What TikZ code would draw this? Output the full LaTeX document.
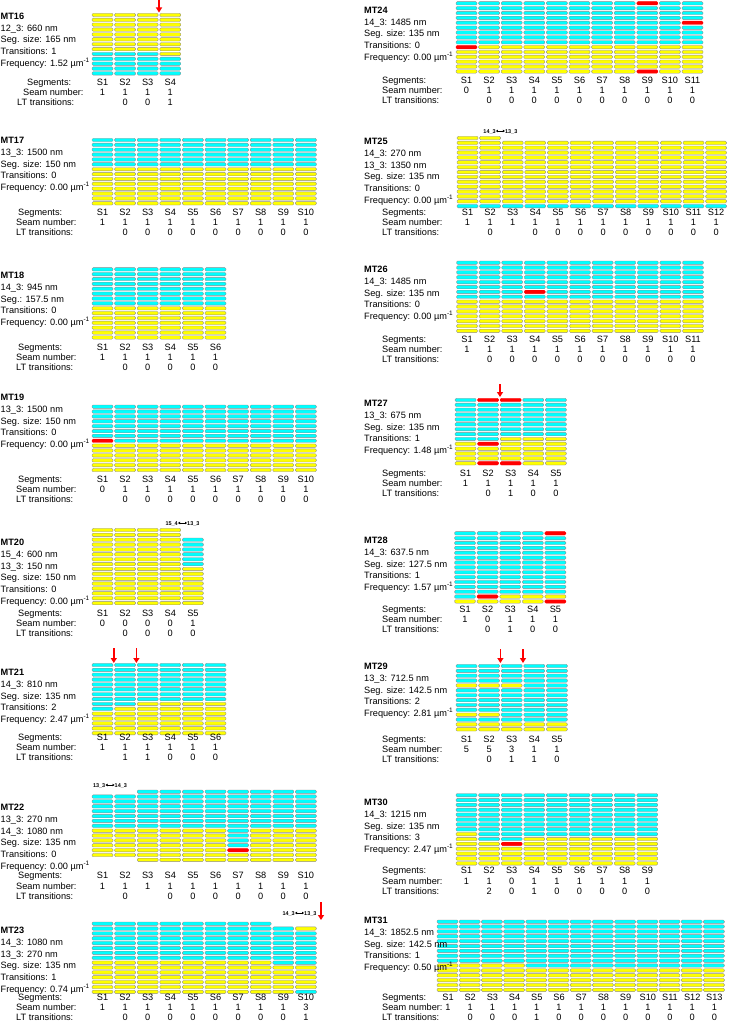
\documentclass[tikz,border=0pt]{standalone}
\usepackage{fontspec}
\setmainfont{Liberation Sans}
\usetikzlibrary{arrows.meta}
\definecolor{pcyan}{RGB}{0,255,255}
\definecolor{pyellow}{RGB}{255,255,0}
\definecolor{pred}{RGB}{255,0,0}
\tikzset{
  pill/.style={draw=black!45, line width=0.35pt, rounded corners=1.2pt},
  pc/.style={pill, fill=pcyan},
  py/.style={pill, fill=pyellow},
  pr/.style={pill, fill=pred, draw=pred},
  px/.style={},
  txt/.style={font=\fontsize{9.2}{11}\selectfont, inner sep=0pt, text height=6.6pt, text depth=0pt},
  ttl/.style={txt, font=\fontsize{9.2}{11}\selectfont\bfseries},
  tiny/.style={font=\fontsize{5.5}{6}\selectfont\bfseries, inner sep=0pt, text height=4pt, text depth=0pt},
  redarrow/.style={color=pred, line width=1.6pt, -{Triangle[length=5pt,width=6pt]}},
}
\newcommand\mtcols[4]{%
  \foreach \L [count=\i from 0] in {#4}{%
    \xdef\pcy{#2}%
    \foreach \n/\s in \L {%
      \foreach \k in {1,...,\n}{%
        \path[\s] ({#1+#3*\i},\pcy) rectangle ++(21,3.4);
        \pgfmathsetmacro\tmp{\pcy+4.87}\xdef\pcy{\tmp}%
      }%
    }%
  }%
}
\newcommand\mtinfo[5]{% id, x, y, title, lines
  \node[ttl, anchor=west] (#1) at (#2,#3) {#4};
  \foreach \t [count=\j] in {#5} \node[txt, anchor=west] (#1-l\j) at (#2,{#3+11.85*\j}) {\t};
}
\def\lxa{18}\def\lxb{16}\def\lxc{16}
\newcommand\mtbottom[7]{% id, x0, pitch, y, n, seam, LT
  \node[txt,anchor=west] (#1-sg) at (\lxa,#4) {Segments:};
  \node[txt,anchor=west] (#1-sn) at (\lxb,{#4+10.2}) {Seam number:};
  \node[txt,anchor=west] (#1-lt) at (\lxc,{#4+20.4}) {LT transitions:};
  \foreach \i in {1,...,#5} \node[txt] (#1-S\i) at ({#2+10.5+#3*(\i-1)},#4) {S\i};
  \foreach \v [count=\i from 0] in {#6} \node[txt] (#1-n\i) at ({#2+10.5+#3*\i},{#4+10.2}) {\v};
  \foreach \v [count=\i from 0] in {#7} \node[txt] (#1-t\i) at ({#2+10.5+#3*\i},{#4+20.4}) {\v};
}
\newcommand\mtx[5]{% id, xc, y, left, right
  \node[tiny, anchor=east] (#1-xl) at ({#2-4.5},#3) {#4};
  \node[tiny, anchor=west] (#1-xr) at ({#2+4.5},#3) {#5};
  \draw[line width=0.6pt, {Triangle[length=2pt,width=2.4pt]}-{Triangle[length=2pt,width=2.4pt]}] (#1-xl.east) -- (#1-xr.west);
}
\newcommand\mtarrow[4]{% id, x, ytop, ybot
  \coordinate (#1-a) at (#2,#3); \coordinate (#1-b) at (#2,#4);
  \draw[redarrow] (#1-a) -- (#1-b);
}
\begin{document}
\begin{tikzpicture}[x=1pt,y=-1pt]
\useasboundingbox (0,0) rectangle (732,1022);
\fill[white] (0,0) rectangle (732,1022);
%% MT16
\mtcols{92}{13.3}{22.6}{{8/py,5/pc},{8/py,5/pc},{8/py,5/pc},{9/py,4/pc}}
\mtarrow{m16}{159}{0.5}{12.5}
\mtinfo{m16}{0.5}{16}{MT16}{12\_3: 660 nm, Seg. size: 165 nm, Transitions: 1, Frequency: 1.52 µm\textsuperscript{-1}}
\def\lxa{27}\def\lxb{23}\def\lxc{17}
\mtbottom{m16}{92}{22.6}{82}{4}{1,1,1,1}{,0,0,1}
\def\lxa{18}\def\lxb{16}\def\lxc{16}
%% MT17
\mtcols{92}{138.3}{22.6}{{6/pc,8/py},{6/pc,8/py},{6/pc,8/py},{6/pc,8/py},{6/pc,8/py},{6/pc,8/py},{6/pc,8/py},{6/pc,8/py},{6/pc,8/py},{6/pc,8/py}}
\mtinfo{m17}{0.5}{140}{MT17}{13\_3: 1500 nm, Seg. size: 150 nm, Transitions: 0, Frequency: 0.00 µm\textsuperscript{-1}}
\mtbottom{m17}{92}{22.6}{212}{10}{1,1,1,1,1,1,1,1,1,1}{,0,0,0,0,0,0,0,0,0}
%% MT18
\mtcols{92}{267.6}{22.6}{{8/pc,7/py},{8/pc,7/py},{8/pc,7/py},{8/pc,7/py},{8/pc,7/py},{8/pc,7/py}}
\mtinfo{m18}{0.5}{275}{MT18}{14\_3: 945 nm, Seg.: 157.5 nm, Transitions: 0, Frequency: 0.00 µm\textsuperscript{-1}}
\mtbottom{m18}{92}{22.6}{347}{6}{1,1,1,1,1,1}{,0,0,0,0,0}
%% MT19
\mtcols{92}{405}{22.6}{{7/pc,1/pr,6/py},{8/pc,6/py},{8/pc,6/py},{8/pc,6/py},{8/pc,6/py},{8/pc,6/py},{8/pc,6/py},{8/pc,6/py},{8/pc,6/py},{8/pc,6/py}}
\mtinfo{m19}{0.5}{397}{MT19}{13\_3: 1500 nm, Seg. size: 150 nm, Transitions: 0, Frequency: 0.00 µm\textsuperscript{-1}}
\mtbottom{m19}{92}{22.6}{479}{10}{0,1,1,1,1,1,1,1,1,1}{,0,0,0,0,0,0,0,0,0}
%% MT20
\mtcols{92}{528.3}{22.6}{{16/py},{16/py},{16/py},{16/py},{2/px,6/pc,8/py}}
\mtx{m20}{182.5}{523}{15\_4}{13\_3}
\mtinfo{m20}{0.5}{542}{MT20}{15\_4: 600 nm, 13\_3: 150 nm, Seg. size: 150 nm, Transitions: 0, Frequency: 0.00 µm\textsuperscript{-1}}
\mtbottom{m20}{92}{22.6}{613}{5}{0,0,0,0,1}{,0,0,0,0}
%% MT21
\mtcols{92}{663.3}{22.6}{{10/pc,5/py},{9/pc,6/py},{8/pc,7/py},{8/pc,7/py},{8/pc,7/py},{8/pc,7/py}}
\mtarrow{m21a}{113.8}{648}{663}
\mtarrow{m21b}{136.4}{648}{663}
\mtinfo{m21}{0.5}{672}{MT21}{14\_3: 810 nm, Seg. size: 135 nm, Transitions: 2, Frequency: 2.47 µm\textsuperscript{-1}}
\mtbottom{m21}{92}{22.6}{737}{6}{1,1,1,1,1,1}{,1,1,0,0,0}
%% MT22
\mtcols{92}{790}{22.6}{{1/px,7/pc,6/py},{1/px,7/pc,6/py},{8/pc,7/py},{8/pc,7/py},{8/pc,7/py},{8/pc,7/py},{12/pc,1/pr,2/py},{8/pc,7/py},{8/pc,7/py},{8/pc,7/py}}
\mtx{m22}{110}{785}{13\_3}{14\_3}
\mtinfo{m22}{0.5}{807}{MT22}{13\_3: 270 nm, 14\_3: 1080 nm, Seg. size: 135 nm, Transitions: 0, Frequency: 0.00 µm\textsuperscript{-1}}
\mtbottom{m22}{92}{22.6}{875.5}{10}{1,1,1,1,1,1,1,1,1,1}{,0,,0,0,0,0,0,0,0}
%% MT23
\mtcols{92}{922}{22.6}{{8/pc,7/py},{8/pc,7/py},{8/pc,7/py},{8/pc,7/py},{8/pc,7/py},{8/pc,7/py},{8/pc,7/py},{8/pc,7/py},{1/px,8/pc,6/py},{1/px,1/py,7/pc,5/py,1/pc}}
\mtx{m23}{299.5}{913}{14\_3}{13\_3}
\mtarrow{m23}{321}{902}{920}
\mtinfo{m23}{0.5}{930}{MT23}{14\_3: 1080 nm, 13\_3: 270 nm, Seg. size: 135 nm, Transitions: 1, Frequency: 0.74 µm\textsuperscript{-1}}
\mtbottom{m23}{92}{22.6}{997}{10}{1,1,1,1,1,1,1,1,1,3}{,0,0,0,0,0,0,0,0,1}
%% right column
\def\lxa{382}\def\lxb{382}\def\lxc{382}
%% MT24
\mtcols{456}{1.6}{22.6}{{9/pc,1/pr,5/py},{9/pc,6/py},{9/pc,6/py},{9/pc,6/py},{9/pc,6/py},{9/pc,6/py},{9/pc,6/py},{9/pc,6/py},{1/pr,8/pc,5/py,1/pr},{9/pc,6/py},{4/pc,1/pr,4/pc,6/py}}
\mtinfo{m24}{364}{10}{MT24}{14\_3: 1485 nm, Seg. size: 135 nm, Transitions: 0, Frequency: 0.00 µm\textsuperscript{-1}}
\mtbottom{m24}{456}{22.6}{80}{11}{0,1,1,1,1,1,1,1,1,1,1}{,0,0,0,0,0,0,0,0,0,0}
%% MT25
\mtcols{457}{136.3}{22.6}{{14/py,1/pc},{14/py,1/pc},{1/px,13/py,1/pc},{1/px,13/py,1/pc},{1/px,13/py,1/pc},{1/px,13/py,1/pc},{1/px,13/py,1/pc},{1/px,13/py,1/pc},{1/px,13/py,1/pc},{1/px,13/py,1/pc},{1/px,13/py,1/pc},{1/px,13/py,1/pc}}
\mtx{m25}{500.4}{131}{14\_3}{13\_3}
\mtinfo{m25}{364}{141}{MT25}{14\_3: 270 nm, 13\_3: 1350 nm, Seg. size: 135 nm, Transitions: 0, Frequency: 0.00 µm\textsuperscript{-1}}
\mtbottom{m25}{457}{22.6}{212}{12}{1,1,1,1,1,1,1,1,1,1,1,1}{,0,,0,0,0,0,0,0,0,0,0}
%% MT26
\mtcols{456.5}{261}{22.6}{{8/pc,7/py},{8/pc,7/py},{8/pc,7/py},{6/pc,1/pr,1/pc,7/py},{8/pc,7/py},{8/pc,7/py},{8/pc,7/py},{8/pc,7/py},{8/pc,7/py},{8/pc,7/py},{8/pc,7/py}}
\mtinfo{m26}{364}{269}{MT26}{14\_3: 1485 nm, Seg. size: 135 nm, Transitions: 0, Frequency: 0.00 µm\textsuperscript{-1}}
\mtbottom{m26}{456.5}{22.6}{339}{11}{1,1,1,1,1,1,1,1,1,1,1}{,0,0,0,0,0,0,0,0,0,0}
%% MT27
\mtcols{455}{398.3}{22.6}{{9/pc,5/py},{1/pr,8/pc,1/pr,3/py,1/pr},{1/pr,7/pc,5/py,1/pr},{8/pc,6/py},{8/pc,6/py}}
\mtarrow{m27}{500}{384}{397}
\mtinfo{m27}{364}{403}{MT27}{13\_3: 675 nm, Seg. size: 135 nm, Transitions: 1, Frequency: 1.48 µm\textsuperscript{-1}}
\mtbottom{m27}{455}{22.6}{473}{5}{1,1,1,1,1}{,0,1,0,0}
%% MT28
\mtcols{454.5}{531.6}{22.6}{{14/pc,1/py},{13/pc,1/pr,1/py},{13/pc,2/py},{13/pc,2/py},{1/pr,12/pc,1/py,1/pr}}
\mtinfo{m28}{364}{540}{MT28}{14\_3: 637.5 nm, Seg. size: 127.5 nm, Transitions: 1, Frequency: 1.57 µm\textsuperscript{-1}}
\mtbottom{m28}{454.5}{22.6}{609}{5}{1,0,1,1,1}{,0,1,0,0}
%% MT29
\mtcols{456}{664.3}{22.6}{{4/pc,1/py,5/pc,1/py,1/pc,2/py},{4/pc,1/py,5/pc,1/py,1/pc,2/py},{4/pc,1/py,7/pc,2/py},{12/pc,2/py},{12/pc,2/py}}
\mtarrow{m29a}{500.4}{649}{663}
\mtarrow{m29b}{523}{649}{663}
\mtinfo{m29}{364}{666}{MT29}{13\_3: 712.5 nm, Seg. size: 142.5 nm, Transitions: 2, Frequency: 2.81 µm\textsuperscript{-1}}
\mtbottom{m29}{456}{22.6}{739}{5}{5,5,3,1,1}{,0,1,1,0}
%% MT30
\mtcols{456}{793.5}{22.6}{{8/pc,7/py},{10/pc,5/py},{10/pc,1/pr,4/py},{9/pc,6/py},{9/pc,6/py},{9/pc,6/py},{9/pc,6/py},{9/pc,6/py},{9/pc,6/py}}
\mtinfo{m30}{364}{802}{MT30}{14\_3: 1215 nm, Seg. size: 135 nm, Transitions: 3, Frequency: 2.47 µm\textsuperscript{-1}}
\mtbottom{m30}{456}{22.6}{870.5}{9}{1,1,0,1,1,1,1,1,1}{,2,0,1,0,0,0,0,0}
%% MT31
\mtcols{437}{920}{22.2}{{9/pc,6/py},{9/pc,6/py},{9/pc,6/py},{9/pc,6/py},{10/pc,5/py},{10/pc,5/py},{10/pc,5/py},{10/pc,5/py},{10/pc,5/py},{10/pc,5/py},{10/pc,5/py},{10/pc,5/py},{10/pc,5/py}}
\mtinfo{m31}{364}{920}{MT31}{14\_3: 1852.5 nm, Seg. size: 142.5 nm, Transitions: 1, Frequency: 0.50 µm\textsuperscript{-1}}
\mtbottom{m31}{437.5}{22.2}{997}{13}{1,1,1,1,1,1,1,1,1,1,1,1,1}{,0,0,0,1,0,0,0,0,0,0,0,0}
\end{tikzpicture}
\end{document}
